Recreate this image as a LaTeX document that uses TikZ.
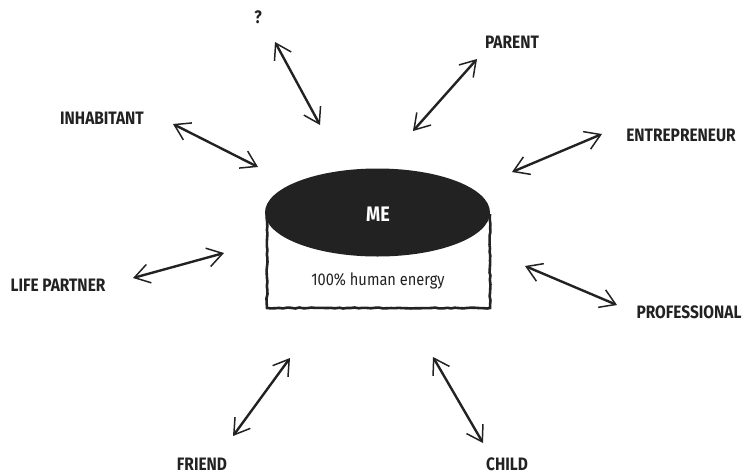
\documentclass[tikz,border=0pt]{standalone}
\usepackage{fontspec}
\setmainfont{Fira Sans}
\newfontfamily\lblfont[FakeStretch=0.86]{Fira Sans}
\usetikzlibrary{arrows.meta,decorations.pathmorphing}
\definecolor{ink}{HTML}{222222}
\tikzset{
  lbl/.style={font=\lblfont\fontsize{18}{20}\selectfont\bfseries, text=ink, inner sep=1pt},
  rel/.style={draw=ink, line width=2.4pt, {Straight Barb[length=15pt,width=19pt,line width=1.5pt]}-{Straight Barb[length=15pt,width=19pt,line width=1.5pt]}},
  sketch/.style={decorate, decoration={random steps, segment length=4pt, amplitude=0.5pt}}
}
\begin{document}
\begin{tikzpicture}[x=1pt,y=-1pt]
\useasboundingbox (0,0) rectangle (745,475);
% cylinder
\draw[ink, line width=2.6pt, fill=white, sketch] (267,214) -- (267,308) -- (490,308) -- (490,214);
\fill[ink] (377.5,212.5) ellipse [x radius=112.5, y radius=44];
\node[font=\lblfont\fontsize{21}{23}\selectfont\bfseries, text=white] (me) at (378,214) {ME};
\node[font=\lblfont\fontsize{17}{19}\selectfont, text=ink] (energy) at (378,281) {100\% human energy};
% labels
\node[lbl] (q) at (258,17) {?};
\node[lbl] (inh) at (102,118) {INHABITANT};
\node[lbl] (par) at (512,42) {PARENT};
\node[lbl] (ent) at (681,135) {ENTREPRENEUR};
\node[lbl] (lp) at (58,285) {LIFE PARTNER};
\node[lbl] (fr) at (202,464) {FRIEND};
\node[lbl] (pro) at (689,312) {PROFESSIONAL};
\node[lbl] (ch) at (507,464) {CHILD};
% arrow ends
\coordinate (q1) at (275,42);  \coordinate (q2) at (320,125);
\coordinate (i1) at (173,124); \coordinate (i2) at (258,167);
\coordinate (p1) at (477,59);  \coordinate (p2) at (413,131);
\coordinate (e1) at (602,134); \coordinate (e2) at (512,172);
\coordinate (l1) at (133,278); \coordinate (l2) at (224,253);
\coordinate (f1) at (290,358); \coordinate (f2) at (233,436);
\coordinate (r1) at (525,266); \coordinate (r2) at (617,305);
\coordinate (c1) at (433,357); \coordinate (c2) at (483,443);
\draw[rel] (q1) -- (q2);
\draw[rel] (i1) -- (i2);
\draw[rel] (p1) -- (p2);
\draw[rel] (e1) -- (e2);
\draw[rel] (l1) -- (l2);
\draw[rel] (f1) -- (f2);
\draw[rel] (r1) -- (r2);
\draw[rel] (c1) -- (c2);
\end{tikzpicture}
\end{document}
